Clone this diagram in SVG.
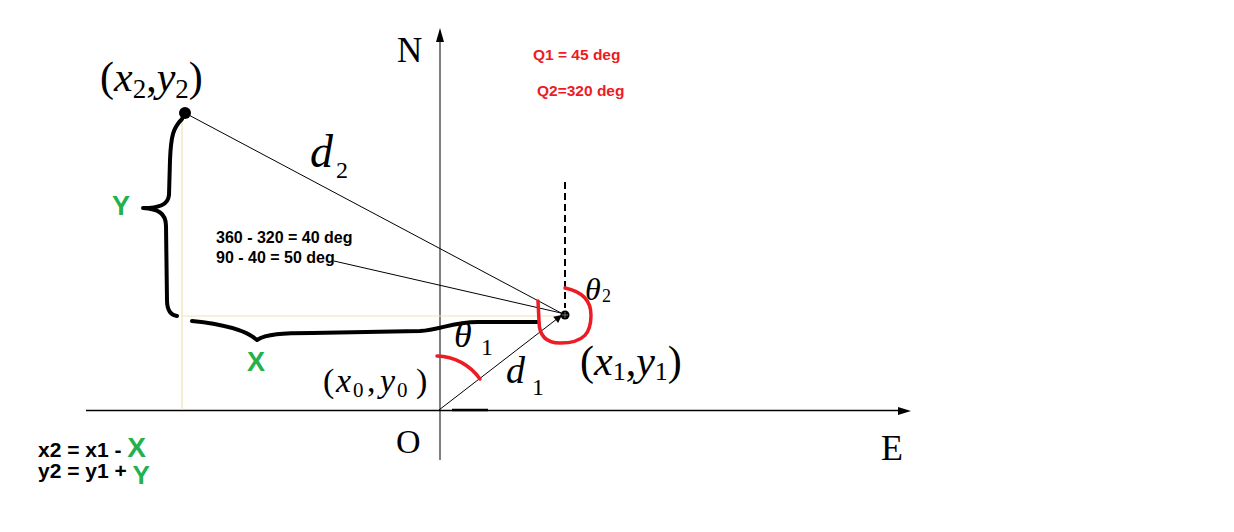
<svg xmlns="http://www.w3.org/2000/svg" width="1234" height="532" viewBox="0 0 1234 532">
<defs>
<style>
.serif{font-family:"Liberation Serif","Times New Roman",serif;fill:#000}
.it{font-style:italic}
.sans{font-family:"Liberation Sans",Arial,sans-serif;font-weight:bold}
.red{fill:#ed1c24}
.green{fill:#22b14c}
.thin{stroke:#000;stroke-width:1;fill:none}
.guide{stroke:#efe4b0;stroke-width:1.2;fill:none}
.brace{stroke:#000;stroke-width:4;fill:none;stroke-linecap:round;stroke-linejoin:round}
.arc{stroke:#ed1c24;stroke-width:3.5;fill:none;stroke-linecap:round}
</style>
<marker id="ah" viewBox="0 0 10 10" refX="10" refY="5" markerWidth="12" markerHeight="8" markerUnits="userSpaceOnUse" orient="auto">
<path d="M0,0 L10,5 L0,10 z" fill="#000"/>
</marker>
</defs>
<rect width="1234" height="532" fill="#fff"/>

<g id="axes">
<line x1="440" y1="460" x2="440" y2="40" stroke="#808080" stroke-width="2"/>
<polygon points="440,28 436,42 444,42" fill="#000"/>
<line x1="86" y1="410.5" x2="898" y2="410.5" stroke="#000" stroke-width="1.5"/>
<polygon points="911,411 898,407 898,415" fill="#000"/>
<line x1="452" y1="410" x2="488" y2="410" stroke="#000" stroke-width="2.5"/>
<text class="serif" x="397" y="62" font-size="35">N</text>
<text class="serif" x="396" y="453" font-size="34">O</text>
<text class="serif" x="881" y="460" font-size="36">E</text>
</g>

<g id="guides">
<line class="guide" x1="182" y1="116" x2="182" y2="410"/>
<line class="guide" x1="182" y1="316" x2="562" y2="316"/>
<line x1="565" y1="182" x2="565" y2="308" stroke="#000" stroke-width="2" stroke-dasharray="7,4"/>
</g>

<g id="connectors">
<line class="thin" x1="185" y1="113" x2="563" y2="314"/>
<line class="thin" x1="334" y1="261" x2="561" y2="313"/>
<line class="thin" x1="439" y1="410" x2="562" y2="315" marker-end="url(#ah)"/>
</g>

<g id="braces">
<path class="brace" d="M182,119 C173,128 171,136 170,160 L169,195 C168,205 159,208 143,208 C158,209 166,213 166,226 L167,300 C167,310 170,315 177,316"/>
<path class="brace" d="M192,321 C222,324 245,329 257,340 C266,334 282,333 312,333 L420,331 C440,330 452,322 478,322 L537,322"/>
</g>

<g id="angles">
<path class="arc" d="M437,356 A54,54 0 0 1 480,379"/>
<path class="arc" d="M565,288 C584,292 591,302 591,315 C591,332 585,343 560,343 C545,343 539,335 539,321 L538,301"/>
</g>

<g id="point2">
<circle cx="185" cy="113" r="6" fill="#000"/>
<text class="serif" font-size="42" x="100" y="91">(<tspan class="it">x</tspan><tspan font-size="27" dy="7">2</tspan><tspan dy="-7">,</tspan><tspan class="it">y</tspan><tspan font-size="27" dy="7">2</tspan><tspan dy="-7">)</tspan></text>
</g>

<g id="point1">
<circle cx="565" cy="315" r="4.5" fill="#000"/>
<line x1="562" y1="315" x2="568" y2="315" stroke="#888" stroke-width="0.8"/>
<line x1="565" y1="312" x2="565" y2="318" stroke="#888" stroke-width="0.8"/>
<text class="serif" font-size="42" x="580" y="375">(<tspan class="it">x</tspan><tspan font-size="26" dy="5">1</tspan><tspan dy="-5">,</tspan><tspan class="it">y</tspan><tspan font-size="26" dy="5">1</tspan><tspan dy="-5">)</tspan></text>
</g>

<g id="point0">
<text class="serif" font-size="34" y="392"><tspan x="323">(</tspan><tspan class="it" x="336">x</tspan><tspan x="353" y="397" font-size="21">0</tspan><tspan x="367" y="392">,</tspan><tspan class="it" x="380">y</tspan><tspan x="397" y="397" font-size="21">0</tspan><tspan x="416" y="392">)</tspan></text>
</g>

<g id="labels">
<text class="serif" y="167"><tspan class="it" x="310" font-size="46">d</tspan><tspan x="336" y="178" font-size="24">2</tspan></text>
<text class="serif" y="383"><tspan class="it" x="506" font-size="38">d</tspan><tspan x="532" y="395" font-size="24">1</tspan></text>
<text class="serif" y="347"><tspan class="it" x="454" font-size="36">θ</tspan><tspan x="481" y="355" font-size="24">1</tspan></text>
<text class="serif" y="300"><tspan class="it" x="585" font-size="32">θ</tspan><tspan x="602" y="302" font-size="18">2</tspan></text>
<text class="sans red" x="533" y="60" font-size="15.5">Q1 = 45 deg</text>
<text class="sans red" x="537" y="96" font-size="15.5">Q2=320 deg</text>
<text class="sans" x="216" y="243" font-size="16">360 - 320 = 40 deg</text>
<text class="sans" x="216" y="263" font-size="16">90 - 40 = 50 deg</text>
<text class="sans green" x="112" y="215" font-size="27">Y</text>
<text class="sans green" x="247" y="371" font-size="27">X</text>
</g>

<g id="formulas">
<text class="sans" x="38" y="457" font-size="21">x2 = x1 - <tspan class="green" font-size="28">X</tspan></text>
<text class="sans" x="38" y="478" font-size="21">y2 = y1 + <tspan class="green" font-size="26" dy="6">Y</tspan></text>
</g>
</svg>
